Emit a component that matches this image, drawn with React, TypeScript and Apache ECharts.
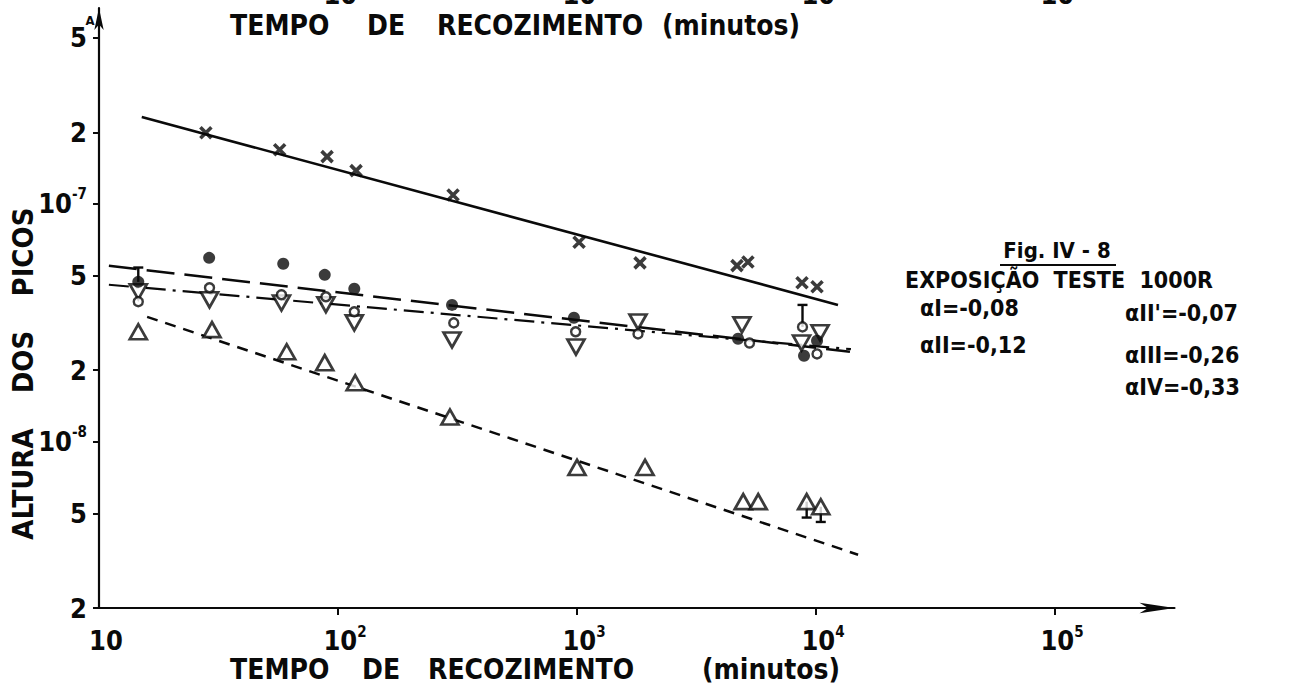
import React, { useEffect, useRef } from 'react';
import * as echarts from 'echarts';

const FONT = '"DejaVu Sans Condensed", "DejaVu Sans", sans-serif';
const INK = '#0a0a0a';

// axis ticks
const xTickValues = [10, 100, 1000, 10000, 100000];
const xTickLabels = ['10', '10{s|2}', '10{s|3}', '10{s|4}', '10{s|5}'];
const xMinorTickValues = [100, 1000, 10000, 100000];
const yTickValues = [2e-9, 5e-9, 1e-8, 2e-8, 5e-8, 1e-7, 2e-7, 5e-7];
const yTickLabels = ['2', '5', '10{s|-8}', '2', '5', '10{s|-7}', '2', '5'];

// series III (crosses)
const crossT = [28, 57, 90, 119, 303, 1020, 1835, 4670, 5190, 8740, 10100];
const crossV = [1.99e-7, 1.69e-7, 1.58e-7, 1.38e-7, 1.09e-7, 6.9e-8, 5.65e-8, 5.5e-8, 5.7e-8, 4.66e-8, 4.48e-8];
// filled circles
const dotT = [14.6, 28.9, 59, 88, 117, 300, 971, 4720, 8910, 10100];
const dotV = [4.7e-8, 5.93e-8, 5.6e-8, 5.03e-8, 4.4e-8, 3.76e-8, 3.32e-8, 2.71e-8, 2.3e-8, 2.66e-8];
// open circles
const ringT = [14.6, 29, 58, 89, 117, 305, 987, 1800, 5270, 8780, 10100];
const ringV = [3.88e-8, 4.44e-8, 4.15e-8, 4.07e-8, 3.52e-8, 3.16e-8, 2.9e-8, 2.84e-8, 2.6e-8, 3.04e-8, 2.34e-8];
// open down triangles
const downT = [14.6, 29, 58, 89, 117, 300, 990, 1800, 4900, 8700, 10400];
const downV = [4.27e-8, 3.95e-8, 3.83e-8, 3.77e-8, 3.16e-8, 2.68e-8, 2.5e-8, 3.19e-8, 3.1e-8, 2.6e-8, 2.87e-8];
// open up triangles (IV)
const upT = [14.6, 29.7, 61, 88, 118, 294, 1000, 1926, 4960, 5730, 9140, 10470];
const upV = [2.9e-8, 2.96e-8, 2.39e-8, 2.15e-8, 1.77e-8, 1.27e-8, 7.8e-9, 7.8e-9, 5.6e-9, 5.6e-9, 5.6e-9, 5.33e-9];

// error bars
const errT = [14.6, 8780, 9140, 10470];
const errFrom = [4.7e-8, 3.04e-8, 5.6e-9, 5.33e-9];
const errTo = [5.4e-8, 3.76e-8, 4.8e-9, 4.6e-9];

// fitted lines
const fitIIIT = [15.1, 12360];
const fitIIIV = [2.32e-7, 3.76e-8];
const fitIIT = [11, 13870];
const fitIIV = [5.49e-8, 2.39e-8];
const fitIT = [11, 14000];
const fitIV1 = [4.57e-8, 2.45e-8];
const fitIVT = [15.9, 15000];
const fitIVV = [3.35e-8, 3.35e-9];

const alphaTexts = ['αI=-0,08', 'αII\'=-0,07', 'αII=-0,12', 'αIII=-0,26', 'αIV=-0,33'];

const zip = (a: number[], b: number[]) => a.map((v, i) => [v, b[i]]);
const nearest = (arr: number[], v: number) => {
  let best = 0;
  let bd = Infinity;
  arr.forEach((a, i) => {
    const d = Math.abs(Math.log10(a) - Math.log10(v));
    if (d < bd) { bd = d; best = i; }
  });
  return best;
};

const richSup = {
  s: { fontSize: 15, lineHeight: 13, verticalAlign: 'top', fontFamily: FONT, fontWeight: 'bold', color: INK },
};

const crossPath = 'path://M0,0 L10,10 M10,0 L0,10';

export default function App() {
  const ref = useRef<HTMLDivElement>(null);
  useEffect(() => {
    if (!ref.current) return;
    const chart = echarts.init(ref.current, null, { renderer: 'svg' });
    const textStyle = (extra: any) => ({ fontFamily: FONT, fontWeight: 'bold', fill: INK, ...extra });
    const option: any = {
      animation: false,
      backgroundColor: '#ffffff',
      grid: { left: 99, top: 8, width: 1075.5, height: 600, outerBoundsMode: 'none', containLabel: false },
      xAxis: [
        {
          type: 'log', logBase: 10, min: 10, max: 316228,
          axisLine: { show: true, symbol: ['none', 'arrow'], symbolSize: [8, 35], lineStyle: { color: INK, width: 2.2 } },
          axisTick: { show: true, customValues: xMinorTickValues, length: 7, lineStyle: { color: INK, width: 2 } },
          axisLabel: {
            customValues: xTickValues,
            formatter: (v: number) => xTickLabels[nearest(xTickValues, v)],
            fontSize: 27, lineHeight: 32, fontFamily: FONT, fontWeight: 'bold', color: INK,
            margin: 16, padding: [0, 0, 0, 14], rich: richSup,
          },
          splitLine: { show: false }, minorTick: { show: false }, minorSplitLine: { show: false },
        },
        {
          type: 'log', logBase: 10, min: 10, max: 316228, position: 'top',
          axisLine: { show: false }, axisTick: { show: false },
          axisLabel: {
            customValues: xMinorTickValues,
            formatter: (v: number) => xTickLabels[nearest(xTickValues, v)],
            fontSize: 27, lineHeight: 24, fontFamily: FONT, fontWeight: 'bold', color: INK,
            margin: 2, padding: [0, 0, 0, 14], rich: richSup,
          },
          splitLine: { show: false },
        },
      ],
      yAxis: {
        type: 'log', logBase: 10, min: 2e-9, max: 6.66e-7,
        axisLine: { show: true, symbol: ['none', 'arrow'], symbolSize: [7, 22], lineStyle: { color: INK, width: 2.2 } },
        axisTick: { show: true, customValues: yTickValues, length: 6, lineStyle: { color: INK, width: 2 } },
        axisLabel: {
          customValues: yTickValues,
          formatter: (v: number) => yTickLabels[nearest(yTickValues, v)],
          fontSize: 27, lineHeight: 34, fontFamily: FONT, fontWeight: 'bold', color: INK,
          margin: 12, rich: richSup,
        },
        splitLine: { show: false }, minorTick: { show: false },
      },
      series: [
        { type: 'line', data: zip(fitIIIT, fitIIIV), symbol: 'none', lineStyle: { color: INK, width: 2.6, type: 'solid' }, z: 1 },
        { type: 'line', data: zip(fitIIT, fitIIV), symbol: 'none', lineStyle: { color: INK, width: 2.5, type: [28, 10] }, z: 1 },
        { type: 'line', data: zip(fitIT, fitIV1), symbol: 'none', lineStyle: { color: INK, width: 2.2, type: [20, 7, 3, 7] }, z: 1 },
        { type: 'line', data: zip(fitIVT, fitIVV), symbol: 'none', lineStyle: { color: INK, width: 2.5, type: [11, 8] }, z: 1 },
        {
          type: 'custom', z: 2,
          data: errT.map((t, i) => [t, errFrom[i], errTo[i]]),
          encode: { x: 0, y: [1, 2] },
          renderItem: (params: any, api: any) => {
            const t = api.value(0);
            const p1 = api.coord([t, api.value(1)]);
            const p2 = api.coord([t, api.value(2)]);
            const st = { stroke: INK, lineWidth: 2.4 };
            return {
              type: 'group',
              children: [
                { type: 'line', shape: { x1: p1[0], y1: p1[1], x2: p2[0], y2: p2[1] }, style: st },
                { type: 'line', shape: { x1: p2[0] - 5, y1: p2[1], x2: p2[0] + 5, y2: p2[1] }, style: st },
              ],
            };
          },
        },
        { type: 'scatter', data: zip(crossT, crossV), symbol: crossPath, symbolSize: 11, itemStyle: { color: 'none', borderColor: INK, borderWidth: 3.6 }, z: 3 },
        { type: 'scatter', data: zip(upT, upV), symbol: 'triangle', symbolSize: [17, 15], itemStyle: { color: '#fff', borderColor: INK, borderWidth: 2.7 }, z: 3 },
        { type: 'scatter', data: zip(downT, downV), symbol: 'triangle', symbolRotate: 180, symbolSize: [17, 15], itemStyle: { color: '#fff', borderColor: INK, borderWidth: 2.7 }, z: 3 },
        { type: 'scatter', data: zip(ringT, ringV), symbol: 'circle', symbolSize: 9, itemStyle: { color: '#fff', borderColor: INK, borderWidth: 2.4 }, z: 4 },
        { type: 'scatter', data: zip(dotT, dotV), symbol: 'circle', symbolSize: 12, itemStyle: { color: INK }, z: 4 },
      ],
      graphic: [
        // top (cropped) axis title
        { type: 'text', x: 230, y: 25, style: textStyle({ text: 'TEMPO', fontSize: 28, lineHeight: 24, verticalAlign: 'middle' }) },
        { type: 'text', x: 367, y: 25, style: textStyle({ text: 'DE', fontSize: 28, lineHeight: 24, verticalAlign: 'middle' }) },
        { type: 'text', x: 437, y: 25, style: textStyle({ text: 'RECOZIMENTO', fontSize: 28, lineHeight: 24, verticalAlign: 'middle' }) },
        { type: 'text', x: 662, y: 25, style: textStyle({ text: '(minutos)', fontSize: 28, lineHeight: 24, verticalAlign: 'middle' }) },
        // bottom axis title
        { type: 'text', x: 230, y: 669, style: textStyle({ text: 'TEMPO', fontSize: 28, lineHeight: 24, verticalAlign: 'middle' }) },
        { type: 'text', x: 362, y: 669, style: textStyle({ text: 'DE', fontSize: 28, lineHeight: 24, verticalAlign: 'middle' }) },
        { type: 'text', x: 428, y: 669, style: textStyle({ text: 'RECOZIMENTO', fontSize: 28, lineHeight: 24, verticalAlign: 'middle' }) },
        { type: 'text', x: 702, y: 669, style: textStyle({ text: '(minutos)', fontSize: 28, lineHeight: 24, verticalAlign: 'middle' }) },
        // y axis title
        { type: 'text', x: 23, y: 484, rotation: Math.PI / 2, style: textStyle({ text: 'ALTURA', fontSize: 29, align: 'center', verticalAlign: 'middle' }) },
        { type: 'text', x: 23, y: 362, rotation: Math.PI / 2, style: textStyle({ text: 'DOS', fontSize: 29, align: 'center', verticalAlign: 'middle' }) },
        { type: 'text', x: 23, y: 252, rotation: Math.PI / 2, style: textStyle({ text: 'PICOS', fontSize: 29, align: 'center', verticalAlign: 'middle' }) },
        // unit mark
        { type: 'text', x: 90, y: 20, style: textStyle({ text: 'A', fontSize: 13, align: 'center', verticalAlign: 'middle' }) },
        // figure caption
        { type: 'text', x: 1057, y: 250, style: textStyle({ text: 'Fig. IV - 8', fontSize: 22, align: 'center', verticalAlign: 'middle' }) },
        { type: 'line', shape: { x1: 1000, y1: 265, x2: 1116, y2: 265 }, style: { stroke: INK, lineWidth: 2 } },
        { type: 'text', x: 905, y: 280, style: textStyle({ text: 'EXPOSIÇÃO  TESTE  1000R', fontSize: 23, verticalAlign: 'middle' }) },
        { type: 'text', x: 920, y: 308, style: textStyle({ text: alphaTexts[0], fontSize: 23, verticalAlign: 'middle' }) },
        { type: 'text', x: 1125, y: 313, style: textStyle({ text: alphaTexts[1], fontSize: 23, verticalAlign: 'middle' }) },
        { type: 'text', x: 920, y: 345, style: textStyle({ text: alphaTexts[2], fontSize: 23, verticalAlign: 'middle' }) },
        { type: 'text', x: 1125, y: 355, style: textStyle({ text: alphaTexts[3], fontSize: 23, verticalAlign: 'middle' }) },
        { type: 'text', x: 1125, y: 387, style: textStyle({ text: alphaTexts[4], fontSize: 23, verticalAlign: 'middle' }) },
      ],
    };
    chart.setOption(option);
    return () => chart.dispose();
  }, []);
  return <div ref={ref} style={{ position: 'absolute', left: 0, top: 0, width: 1291, height: 686, background: '#fff' }} />;
}
